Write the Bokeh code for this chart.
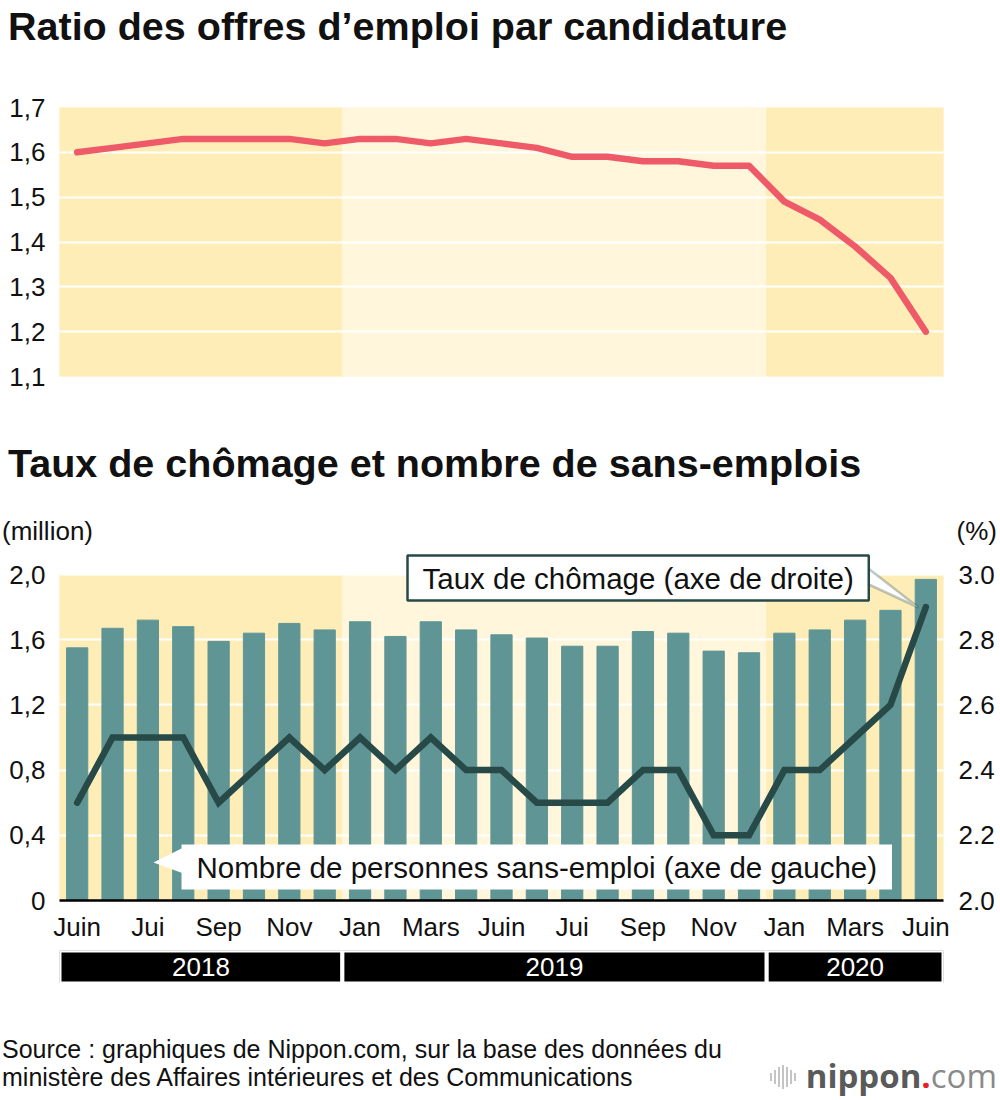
from bokeh.plotting import figure
from bokeh.models import Range1d, LinearAxis, FixedTicker, Label, PolyAnnotation, ColumnDataSource, Div
from bokeh.layouts import column
from bokeh.embed import file_html
from bokeh.resources import INLINE
from bokeh.core.properties import value

FONT = "Liberation Sans"

# ---------------- data ----------------
years = ["2018", "2019", "2020"]
months_per_year = [8, 12, 5]
tick_positions = [0, 2, 4, 6, 8, 10, 12, 14, 16, 18, 20, 22, 24]
tick_labels = ["Juin", "Jui", "Sep", "Nov", "Jan", "Mars", "Juin", "Jui", "Sep", "Nov", "Jan", "Mars", "Juin"]

job_ratio = [1.60, 1.61, 1.62, 1.63, 1.63, 1.63, 1.63, 1.62, 1.63, 1.63, 1.62, 1.63, 1.62,
             1.61, 1.59, 1.59, 1.58, 1.58, 1.57, 1.57, 1.49, 1.45, 1.39, 1.32, 1.20]
unemployed = [1.55, 1.67, 1.72, 1.68, 1.59, 1.64, 1.70, 1.66, 1.71, 1.62, 1.71, 1.66, 1.63,
              1.61, 1.56, 1.56, 1.65, 1.64, 1.53, 1.52, 1.64, 1.66, 1.72, 1.78, 1.97]
unemp_rate = [2.3, 2.5, 2.5, 2.5, 2.3, 2.4, 2.5, 2.4, 2.5, 2.4, 2.5, 2.4, 2.4,
              2.3, 2.3, 2.3, 2.4, 2.4, 2.2, 2.2, 2.4, 2.4, 2.5, 2.6, 2.9]

ratio_ticks = [1.1, 1.2, 1.3, 1.4, 1.5, 1.6, 1.7]
ratio_tick_labels = ["1,1", "1,2", "1,3", "1,4", "1,5", "1,6", "1,7"]
count_ticks = [0, 0.4, 0.8, 1.2, 1.6, 2.0]
count_tick_labels = ["0", "0,4", "0,8", "1,2", "1,6", "2,0"]
rate_ticks = [2.0, 2.2, 2.4, 2.6, 2.8, 3.0]
rate_tick_labels = ["2.0", "2.2", "2.4", "2.6", "2.8", "3.0"]

title_1 = "Ratio des offres d\u2019emploi par candidature"
title_2 = "Taux de ch\u00f4mage et nombre de sans-emplois"
unit_left = "(million)"
unit_right = "(%)"
callout_rate = "Taux de ch\u00f4mage (axe de droite)"
callout_count = "Nombre de personnes sans-emploi (axe de gauche)"
source_lines = ["Source : graphiques de Nippon.com, sur la base des donn\u00e9es du",
                "minist\u00e8re des Affaires int\u00e9rieures et des Communications"]

# ---------------- derived ----------------
n = len(job_ratio)
idx = list(range(n))
starts, s = [], 0
for m in months_per_year:
    starts.append(s)
    s += m
band_left = [st - 0.5 for st in starts]
band_right = [st + m - 0.5 for st, m in zip(starts, months_per_year)]
band_mid = [(l + r) / 2 for l, r in zip(band_left, band_right)]
DARK, LIGHT = "#FFEDB8", "#FFF6DB"
band_colors = [DARK if i % 2 == 0 else LIGHT for i in range(len(years))]
bands = ColumnDataSource(dict(left=band_left, right=band_right, mid=band_mid, year=years, color=band_colors))

W = 1000
BL, BR = 59, 57
TEAL = "#5F9594"
DARKLINE = "#274A48"
RED = "#EF5A69"
INK = "#111111"


def style_axis(ax, standoff):
    ax.axis_line_color = None
    ax.major_tick_line_color = None
    ax.minor_tick_line_color = None
    ax.major_tick_out = 0
    ax.major_tick_in = 0
    ax.minor_tick_out = 0
    ax.minor_tick_in = 0
    ax.axis_label_standoff = 0
    ax.major_label_text_font = FONT
    ax.major_label_text_font_size = "26px"
    ax.major_label_text_color = INK
    ax.major_label_standoff = standoff


def span(text, top, size, left=None, right=None, bold=False, color=INK, family=FONT):
    pos = f"left:{left}px;" if left is not None else f"right:{right}px;"
    weight = "bold" if bold else "normal"
    return (f'<span style="position:absolute;{pos}top:{top}px;font-family:\'{family}\';'
            f'font-size:{size}px;font-weight:{weight};color:{color};line-height:1;white-space:nowrap;">'
            f'{text}</span>')


def text_div(height, inner):
    html = (f'<div style="position:relative;width:{W}px;height:{height}px;margin:0;padding:0;">'
            + inner + '</div>')
    return Div(text=html, width=W, height=height, margin=0)


# baseline offset for line-height:1 in Liberation Sans = 0.8465 em
def top_for(baseline, size):
    return round(baseline - 0.8465 * size, 1)


# ---------------- title 1 (page y 0..60) ----------------
h1 = text_div(60, span(title_1, top_for(40, 39.5), 39.5, left=8, bold=True))

# ---------------- top chart (page y 60..420) ----------------
p1 = figure(width=W, height=360, x_range=Range1d(-0.5, n - 0.5), y_range=Range1d(ratio_ticks[0], ratio_ticks[-1]),
            output_backend="svg", toolbar_location=None, x_axis_location=None,
            min_border_left=BL, min_border_right=BR, min_border_top=47, min_border_bottom=44)
p1.outline_line_color = None
p1.xgrid.visible = False
p1.yaxis.ticker = FixedTicker(ticks=ratio_ticks)
p1.yaxis.major_label_overrides = dict(zip(ratio_ticks, ratio_tick_labels))
style_axis(p1.yaxis[0], 14)
p1.ygrid.ticker = FixedTicker(ticks=ratio_ticks)
p1.ygrid.grid_line_color = "white"
p1.ygrid.grid_line_width = 2
p1.quad(left="left", right="right", bottom=ratio_ticks[0], top=ratio_ticks[-1], color="color",
        source=bands, level="image")
p1.line(idx, job_ratio, line_width=6.5, color=RED, line_cap="round", line_join="round")

# ---------------- title 2 + units (page y 420..550) ----------------
h2 = text_div(130,
              span(title_2, top_for(57, 39.5), 39.5, left=8, bold=True)
              + span(unit_left, top_for(120, 26), 26, left=2)
              + span(unit_right, top_for(120, 26), 26, right=3))

# ---------------- bottom chart (page y 550..950) ----------------
PLOT_PX = 326      # pixel height of the 0..2.0 data area
FRAME_PX = 350     # frame height (headroom for the callout box)
count_top = count_ticks[-1] * FRAME_PX / PLOT_PX
rate_top = rate_ticks[0] + (rate_ticks[-1] - rate_ticks[0]) * FRAME_PX / PLOT_PX

p2 = figure(width=W, height=400, x_range=Range1d(-0.5, n - 0.5), y_range=Range1d(count_ticks[0], count_top),
            output_backend="svg", toolbar_location=None,
            min_border_left=BL, min_border_right=BR, min_border_top=0, min_border_bottom=50)
p2.extra_y_ranges = {"rate": Range1d(rate_ticks[0], rate_top)}
p2.outline_line_color = None
p2.xgrid.visible = False
p2.yaxis.ticker = FixedTicker(ticks=count_ticks)
p2.yaxis.major_label_overrides = dict(zip(count_ticks, count_tick_labels))
style_axis(p2.yaxis[0], 14)
rax = LinearAxis(y_range_name="rate", ticker=FixedTicker(ticks=rate_ticks),
                 major_label_overrides=dict(zip(rate_ticks, rate_tick_labels)))
style_axis(rax, 15)
p2.add_layout(rax, "right")
p2.ygrid.ticker = FixedTicker(ticks=count_ticks[1:])
p2.ygrid.grid_line_color = "white"
p2.ygrid.grid_line_width = 2
xax = p2.xaxis[0]
xax.ticker = FixedTicker(ticks=tick_positions)
xax.major_label_overrides = dict(zip(tick_positions, tick_labels))
style_axis(xax, 11)
xax.axis_line_color = "black"
xax.axis_line_width = 2.5

p2.quad(left="left", right="right", bottom=count_ticks[0], top=count_ticks[-1], color="color",
        source=bands, level="image")
p2.vbar(x=idx, top=unemployed, width=0.6, color=TEAL)
p2.line(idx, unemp_rate, y_range_name="rate", line_width=6.5, color=DARKLINE,
        line_cap="round", line_join="miter")


def callout(p, text, x, y, border):
    for off, alpha in ((7, 0.05), (4, 0.09)):
        p.add_layout(Label(x=x, y=y, x_units="screen", y_units="screen", x_offset=off, y_offset=-off,
                           text=text, text_font=FONT, text_font_size="29.5px", text_alpha=0,
                           text_baseline="middle", padding=(15, 6),
                           background_fill_color="black", background_fill_alpha=alpha))
    p.add_layout(Label(x=x, y=y, x_units="screen", y_units="screen",
                       text=text, text_font=FONT, text_font_size="29.5px", text_color=INK,
                       text_baseline="middle", padding=(15, 6),
                       background_fill_color="white",
                       border_line_color=border, border_line_width=2.5))


p2.add_layout(PolyAnnotation(xs=[805, 859, 805], ys=[335, 293, 318], xs_units="screen", ys_units="screen",
                             fill_color="white", fill_alpha=1, line_color=DARKLINE, line_width=2.5))
p2.add_layout(PolyAnnotation(xs=[124, 94, 124], ys=[53, 38, 27], xs_units="screen", ys_units="screen",
                             fill_color="white", fill_alpha=1, line_color=None))
callout(p2, callout_rate, 348, 322.5, DARKLINE)
callout(p2, callout_count, 122, 33.5, None)

# ---------------- year bar (page y 950..983) ----------------
p3 = figure(width=W, height=33, x_range=Range1d(-0.5, n - 0.5), y_range=Range1d(0, 1),
            output_backend="svg", toolbar_location=None, x_axis_location=None, y_axis_location=None,
            min_border_left=BL, min_border_right=BR, min_border_top=0, min_border_bottom=0)
p3.outline_line_color = None
p3.grid.visible = False
p3.quad(left="left", right="right", bottom=0, top=1, source=bands, fill_color="black",
        line_color="white", line_width=4)
p3.text(x="mid", y=0.5, text="year", source=bands, text_color="white", text_font=value(FONT),
        text_font_size="26px", text_align="center", text_baseline="middle")

# ---------------- footer (page y 983..1093) ----------------
bars = "".join(
    f'<span style="display:inline-block;width:2px;height:{h}px;background:#C4C4C4;margin-right:2px;'
    f'vertical-align:middle;"></span>' for h in (8, 14, 20, 24, 20, 14, 8))
logo = (f'<span style="position:absolute;right:3px;top:{top_for(105, 33) - 1}px;line-height:1;white-space:nowrap;'
        f'font-family:\'Open Sans\';font-size:33px;">'
        f'<span style="margin-right:8px;vertical-align:middle;position:relative;top:-6px;">{bars}</span>'
        f'<span style="font-weight:bold;color:#5A5A5A;">nippon</span>'
        f'<span style="font-weight:bold;color:#E5202A;">.</span>'
        f'<span style="color:#8A8A8A;">com</span></span>')
ft = text_div(110,
              span(source_lines[0], top_for(75, 25), 25, left=2)
              + span(source_lines[1], top_for(103, 25), 25, left=2)
              + logo)

layout = column(h1, p1, h2, p2, p3, ft, spacing=0)
open("out.html", "w").write(file_html(layout, INLINE))
